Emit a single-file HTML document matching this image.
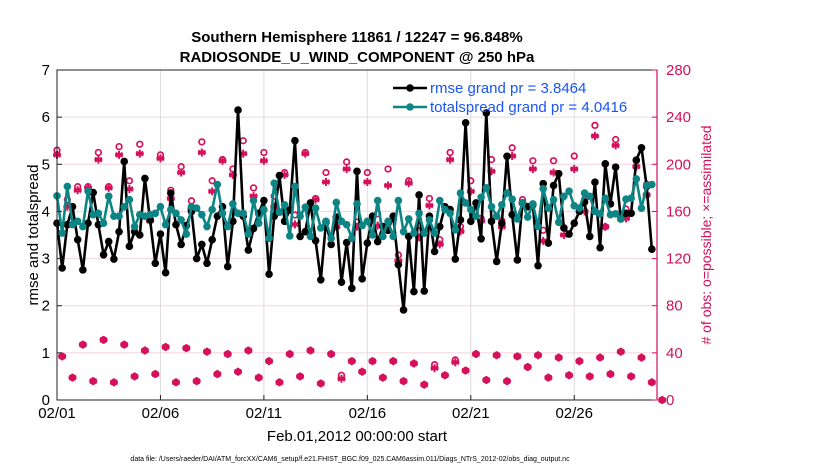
<!DOCTYPE html>
<html><head><meta charset="utf-8"><style>
body{margin:0;background:#fff;}
svg{display:block;font-family:"Liberation Sans",sans-serif;}
</style></head><body>
<svg id="chart" width="830" height="470" xmlns="http://www.w3.org/2000/svg">
<text x="357" y="42" text-anchor="middle" font-size="15" font-weight="bold">Southern Hemisphere 11861 / 12247 = 96.848%</text>
<text x="357" y="62" text-anchor="middle" font-size="15" font-weight="bold">RADIOSONDE_U_WIND_COMPONENT @ 250 hPa</text>
<g id="grid"></g>
<g id="marks"></g>
<g id="axes"></g>
<text x="0" y="0" transform="translate(38,235) rotate(-90)" text-anchor="middle" font-size="15">rmse and totalspread</text>
<text x="0" y="0" transform="translate(711,235) rotate(-90)" text-anchor="middle" font-size="14" fill="#d0105a"># of obs: o=possible; ×=assimilated</text>
<text x="357" y="441" text-anchor="middle" font-size="15">Feb.01,2012 00:00:00 start</text>
<text x="350" y="461" text-anchor="middle" font-size="7">data file: /Users/raeder/DAI/ATM_forcXX/CAM6_setup/f.e21.FHIST_BGC.f09_025.CAM6assim.011/Diags_NTrS_2012-02/obs_diag_output.nc</text>
<g id="legend"></g>
</svg>
<script>
const xTickLabels = ["02/01","02/06","02/11","02/16","02/21","02/26"];
const xTickDays = [0,5,10,15,20,25];
const yLeftTicks = [0,1,2,3,4,5,6,7];
const yRightTicks = [0,40,80,120,160,200,240,280];
const rmse = [3.75,2.8,3.72,4.1,3.4,2.76,3.75,4.4,3.72,3.08,3.36,2.99,3.57,5.06,3.26,3.57,3.5,4.7,3.82,2.9,3.52,2.7,4.39,3.72,3.3,3.7,4.0,3.0,3.3,2.9,
3.4,3.9,4.1,2.83,3.79,6.15,3.9,3.18,3.64,3.96,4.23,2.67,3.9,4.76,3.79,4.03,5.5,3.47,3.57,4.18,3.38,2.55,3.77,3.3,3.88,2.5,3.34,2.37,4.85,
2.57,3.33,3.9,3.36,3.68,3.6,3.9,2.87,1.91,3.47,2.3,4.35,2.31,3.9,3.15,3.68,4.1,4.04,2.99,3.82,5.88,3.79,4.18,3.42,6.09,3.79,2.94,3.75,5.17,
3.93,2.97,4.18,4.1,4.14,2.85,4.59,3.33,4.55,4.8,3.65,3.52,3.75,4.0,4.2,3.47,4.62,3.23,5.01,4.16,4.94,3.84,3.96,3.96,5.09,5.35,4.53,3.2];
const spread = [4.33,3.54,4.53,3.72,3.79,3.68,4.43,3.93,3.96,3.75,4.32,3.9,3.9,4.1,4.25,3.68,3.93,3.9,3.93,3.96,4.1,3.72,4.04,3.96,3.82,3.52,4.1,4.07,3.93,3.68,
4.04,4.57,3.96,3.68,4.16,3.96,3.96,3.52,4.23,3.75,4.04,3.43,4.6,3.98,4.14,3.48,4.53,3.9,4.09,3.47,4.07,3.65,3.79,3.43,4.19,3.79,3.72,3.43,4.16,
3.7,3.79,3.5,4.23,3.47,3.79,3.47,4.23,3.57,3.84,3.54,3.96,3.54,3.82,3.54,4.23,4.04,3.96,3.61,4.39,4.18,4.04,3.9,4.3,4.5,4.1,3.9,4.14,4.39,
4.26,3.84,4.18,3.88,4.16,3.68,4.48,4.07,4.25,3.77,4.32,4.43,4.12,4.07,4.39,4.32,4.0,3.95,4.28,3.93,3.95,3.84,4.26,4.28,4.69,4.07,4.55,4.57];
// obs counts at even time steps (00Z/12Z)
const obsAssimMain = [208,164,178,180,204,180,208,179,209,152,205,171,193,162,210,
177,203,191,209,173,203,164,191,149,209,170,185,147,196,147,
185,148,182,118,184,138,165,132,204,143,177,152,194,147,
207,167,196,135,193,140,196,160,224,147,216,154,198,174];
const obsPossMain = [212,170,181,181,210,181,215,186,217,154,208,178,198,169,219,
186,204,196,220,180,210,173,193,157,210,171,193,155,202,151,
193,158,196,123,186,148,171,136,210,147,186,154,204,152,
214,170,203,144,203,146,207,170,233,147,221,162,203,183];
// obs counts at odd time steps (06Z/18Z), plus final step
const obsAssimOff = [37,19,47,16,51,15,47,20,42,22,45,15,44,16,41,22,39,24,42,19,33,15,39,20,42,14,39,18,33,24,
33,19,33,16,31,13,27,21,32,25,39,17,38,16,37,28,38,19,36,21,33,20,36,22,41,20,36,15,0];
const obsPossOff = [37,19,47,16,51,15,47,20,42,22,45,15,44,16,41,22,39,24,42,19,33,15,39,20,42,14,39,21,33,24,
33,19,33,16,31,13,30,21,34,25,39,17,38,16,37,28,38,19,36,21,33,20,36,22,41,20,36,15,0];

const X0=57,X1=657,Y0=400,Y1=70,NDAYS=29,STEPS=4;
const xDay=d=>X0+(X1-X0)*d/NDAYS;
const xIdx=i=>xDay(i/STEPS);
const yL=v=>Y0-(Y0-Y1)*v/7;
const yR=v=>Y0-(Y0-Y1)*v/280;
const NS="http://www.w3.org/2000/svg";
function mk(tag,attrs,parent){const e=document.createElementNS(NS,tag);for(const k in attrs)e.setAttribute(k,attrs[k]);parent.appendChild(e);return e;}
const grid=document.getElementById('grid'),marks=document.getElementById('marks'),axes=document.getElementById('axes'),legend=document.getElementById('legend');

yLeftTicks.forEach(v=>{if(v>0&&v<7){const l=mk('line',{x1:X0,x2:X1,y1:yL(v),y2:yL(v),stroke:'#f2d4de','stroke-width':1},grid);

}});
xTickDays.forEach(d=>{if(d>0){const l=mk('line',{x1:xDay(d),x2:xDay(d),y1:Y0,y2:Y1,stroke:'#dcdcdc','stroke-width':1},grid);

}});

function star(x,y,p){const g=mk('g',{stroke:'#d6105a','stroke-width':2},p);


const r=4;[[0,1],[0.87,0.5],[0.87,-0.5]].forEach(([a,b])=>mk('line',{x1:x-a*r,y1:y-b*r,x2:x+a*r,y2:y+b*r},g));
mk('line',{x1:x-r,y1:y,x2:x+r,y2:y},g);
mk('circle',{cx:x,cy:y,r:2.2,fill:'#d6105a',stroke:'none'},g);}
function ring(x,y,p){const c=mk('circle',{cx:x,cy:y,r:2.8,fill:'none',stroke:'#d6105a','stroke-width':1.7},p);

}
obsAssimMain.forEach((v,k)=>{const x=xIdx(2*k);ring(x,yR(obsPossMain[k]),marks);star(x,yR(v),marks);});
obsAssimOff.forEach((v,k)=>{const x=xIdx(2*k+1);ring(x,yR(obsPossOff[k]),marks);star(x,yR(v),marks);});

function series(vals,color,name){
const pts=vals.map((v,i)=>xIdx(i).toFixed(1)+','+yL(v).toFixed(1)).join(' ');
const pl=mk('polyline',{points:pts,fill:'none',stroke:color,'stroke-width':2.6,'stroke-linejoin':'round'},marks);


vals.forEach((v,i)=>{const c=mk('circle',{cx:xIdx(i),cy:yL(v),r:3.8,fill:color},marks);

});}
series(rmse,'#000','rmse');
series(spread,'#0d8585','totalspread');

mk('rect',{x:X0,y:Y1,width:X1-X0,height:Y0-Y1,fill:'none',stroke:'#222','stroke-width':1},axes);
mk('line',{x1:X1,x2:X1,y1:Y1,y2:Y0,stroke:'#d0105a','stroke-width':1.2},axes);
yLeftTicks.forEach(v=>{const y=yL(v);mk('line',{x1:X0,x2:X0+5,y1:y,y2:y,stroke:'#222'},axes);
const t=mk('text',{x:X0-7,y:y+5,'text-anchor':'end','font-size':15},axes);t.textContent=v;

});
yRightTicks.forEach(v=>{const y=yR(v);mk('line',{x1:X1-5,x2:X1,y1:y,y2:y,stroke:'#d0105a'},axes);
const t=mk('text',{x:X1+9,y:y+5,'font-size':15,fill:'#d0105a'},axes);t.textContent=v;

});
xTickDays.forEach((d,i)=>{const x=xDay(d);mk('line',{x1:x,x2:x,y1:Y0,y2:Y0-5,stroke:'#222'},axes);
const t=mk('text',{x:x,y:Y0+18,'text-anchor':'middle','font-size':15},axes);t.textContent=xTickLabels[i];

});

[["rmse grand pr = 3.8464","#000",88],["totalspread grand pr = 4.0416","#0d8585",107]].forEach(([txt,col,y])=>{
mk('line',{x1:393,x2:427,y1:y,y2:y,stroke:col,'stroke-width':2.6},legend);
mk('circle',{cx:410,cy:y,r:3.8,fill:col},legend);
const t=mk('text',{x:430,y:y+5,'font-size':15,fill:'#1a55f5'},legend);t.textContent=txt;

});
</script>
</body></html>
